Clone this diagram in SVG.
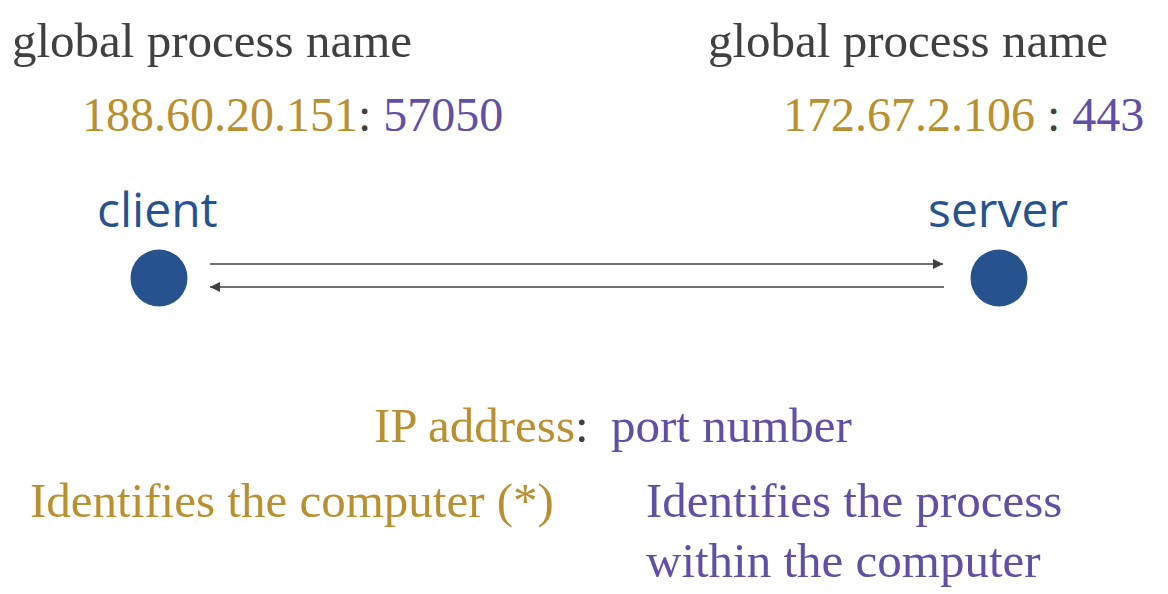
<svg xmlns="http://www.w3.org/2000/svg" width="1168" height="594" viewBox="0 0 1168 594">
<style>
.serif{font-family:"Liberation Serif","Times New Roman",serif;font-size:49px}
.addr{font-size:48px}
.gray{fill:#404040}
.gold{fill:#B8902F}
.purple{fill:#5F50A5}
.node-label{font-family:"Open Sans","Noto Sans",sans-serif;font-size:48px;fill:#26528E}
.dot{fill:#26528E}
.conn{stroke:#404040;stroke-width:1.6;fill:none}
</style>
<defs>
<marker id="ah" viewBox="0 0 10 10" refX="10" refY="5" markerWidth="14" markerHeight="10" markerUnits="userSpaceOnUse" orient="auto-start-reverse">
<path d="M0,0 L10,5 L0,10 z" fill="#404040"/>
</marker>
</defs>
<rect width="1168" height="594" fill="#fff"/>

<g id="client-labels">
<text class="serif gray" x="12" y="57">global process name</text>
<text class="serif addr" x="82" y="131"><tspan class="gold">188.60.20.151</tspan><tspan class="gray">: </tspan><tspan class="purple">57050</tspan></text>
</g>
<g id="server-labels">
<text class="serif gray" x="708" y="57">global process name</text>
<text class="serif addr" x="783" y="131"><tspan class="gold">172.67.2.106</tspan><tspan class="gray"> : </tspan><tspan class="purple">443</tspan></text>
</g>

<g id="client">
<text class="node-label" x="97" y="227">client</text>
<circle class="dot" cx="159" cy="278" r="28.5"/>
</g>
<g id="server">
<text class="node-label" x="928" y="227">server</text>
<circle class="dot" cx="999" cy="278" r="28.5"/>
</g>

<g id="connectors">
<line class="conn" x1="210" y1="264" x2="943" y2="264" marker-end="url(#ah)"/>
<line class="conn" x1="944" y1="287" x2="210" y2="287" marker-end="url(#ah)"/>
</g>

<g id="legend">
<text class="serif" x="374" y="442"><tspan class="gold">IP address</tspan><tspan class="gray">:</tspan></text>
<text class="serif purple" x="611" y="442">port number</text>
<text class="serif gold" x="30" y="517">Identifies the computer (*)</text>
<text class="serif purple" x="646" y="517">Identifies the process</text>
<text class="serif purple" x="646" y="577">within the computer</text>
</g>
</svg>
